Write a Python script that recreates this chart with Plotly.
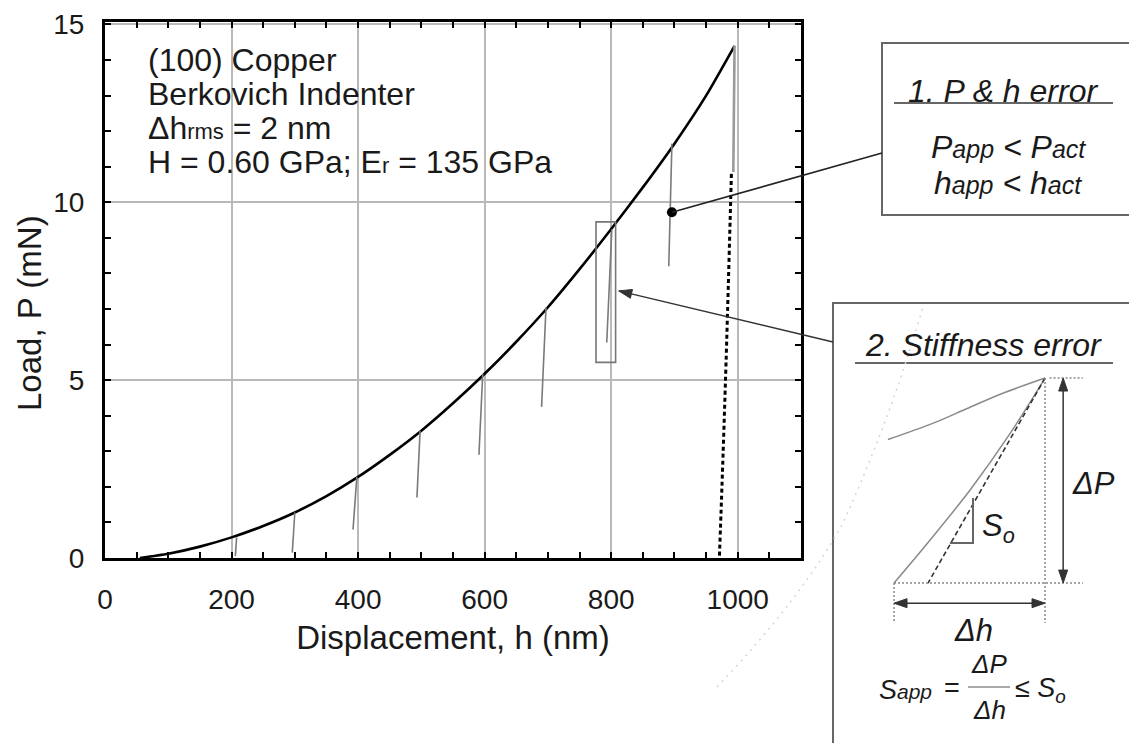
import plotly.graph_objects as go

W, H = 1129, 743

# ---- loading curve of (100) Cu, Berkovich indenter ----
h_load = [55, 100, 150, 200, 250, 300, 350, 400, 450, 500, 550, 600,
          650, 700, 750, 800, 850, 900, 950, 995]
P_load = [0.0, 0.12, 0.32, 0.58, 0.9, 1.28, 1.74, 2.28, 2.9, 3.58, 4.35, 5.18,
          6.08, 7.05, 8.12, 9.25, 10.42, 11.65, 13.0, 14.4]

# ---- partial unloading segments (top point on curve -> bottom point) ----
seg_h_top = [208, 300, 398, 498, 597, 697, 801, 896]
seg_P_top = [0.58, 1.28, 2.28, 3.58, 5.18, 7.05, 9.24, 11.65]
seg_h_bot = [206, 296, 392, 493, 591, 690, 793, 891]
seg_P_bot = [0.05, 0.15, 0.8, 1.7, 2.9, 4.25, 6.06, 8.2]

# ---- final unload from 1000 nm ----
final_h_solid = [995, 994, 993]
final_P_solid = [14.4, 12.4, 10.85]
final_h_dash = [990, 988, 985, 982, 977, 971]
final_P_dash = [10.8, 9.5, 7.6, 5.77, 3.0, 0.0]

# apparent point for the P & h error callout
err_h = [896]
err_P = [9.72]

# window around the 800 nm unload, and where its arrow points
win_h = (776, 807)
win_P = (5.5, 9.45)
win_arrow = (812, 7.51)

# axis ranges
H_RANGE = (0, 1100)
P_RANGE = (0, 15.07)

# ---- stiffness schematic (normalised: unload start (0,0), peak (1,1)) ----
sch_load_x = [-0.04, 0.26, 0.48, 0.70, 1.0]
sch_load_y = [0.70, 0.78, 0.85, 0.92, 1.0]
sch_unload_x = [1.0, 0.76, 0.51, 0.25, 0.0]
sch_unload_y = [1.0, 0.72, 0.46, 0.22, 0.0]
sch_tangent_x = [1.0, 0.225]
sch_tangent_y = [1.0, 0.0]
sch_tri_x = [0.37, 0.523, 0.523]
sch_tri_y = [0.195, 0.195, 0.415]

FONT = "Liberation Sans, Arial, sans-serif"
INK = "#1a1a1a"

# plot-area edges in pixels
PL, PR, PT, PB = 105, 801, 22, 558


def px(x):
    return x / W


def py(y):
    return (H - y) / H


def data_paper(h, p):
    """Main-axes data point -> paper fraction (for callouts leaving the axes)."""
    xp = PL + (h - H_RANGE[0]) / (H_RANGE[1] - H_RANGE[0]) * (PR - PL)
    yp = PB - (p - P_RANGE[0]) / (P_RANGE[1] - P_RANGE[0]) * (PB - PT)
    return px(xp), py(yp)


def head(xref, yref, x, y, angle_path):
    """Filled arrowhead anchored at a point, drawn in pixel offsets."""
    return dict(type="path", xref=xref, yref=yref, xsizemode="pixel",
                ysizemode="pixel", xanchor=x, yanchor=y, path=angle_path,
                fillcolor="#333", line=dict(color="#333", width=1))


fig = go.Figure()

fig.add_trace(go.Scatter(x=h_load, y=P_load, mode="lines",
                         line=dict(color="black", width=2.6, shape="spline",
                                   smoothing=0.6),
                         hoverinfo="skip"))

for ht, pt, hb, pb in zip(seg_h_top, seg_P_top, seg_h_bot, seg_P_bot):
    fig.add_trace(go.Scatter(x=[ht, hb], y=[pt, pb], mode="lines",
                             line=dict(color="#7a7a7a", width=1.6),
                             hoverinfo="skip"))

fig.add_trace(go.Scatter(x=final_h_solid, y=final_P_solid, mode="lines",
                         line=dict(color="#9a9a9a", width=2.6),
                         hoverinfo="skip"))
fig.add_trace(go.Scatter(x=final_h_dash, y=final_P_dash, mode="lines",
                         line=dict(color="black", width=3, dash="4px,3px",
                                   shape="spline"),
                         hoverinfo="skip"))
fig.add_trace(go.Scatter(x=err_h, y=err_P, mode="markers",
                         marker=dict(color="black", size=10),
                         hoverinfo="skip"))

# schematic traces on the inset axes
inset = dict(xaxis="x2", yaxis="y2", hoverinfo="skip", mode="lines")
fig.add_trace(go.Scatter(x=sch_load_x, y=sch_load_y,
                         line=dict(color="#8a8a8a", width=1.5, shape="spline"),
                         **inset))
fig.add_trace(go.Scatter(x=sch_unload_x, y=sch_unload_y,
                         line=dict(color="#8a8a8a", width=1.5, shape="spline"),
                         **inset))
fig.add_trace(go.Scatter(x=sch_tangent_x, y=sch_tangent_y,
                         line=dict(color="#333", width=1.6, dash="5px,3px"),
                         **inset))
fig.add_trace(go.Scatter(x=sch_tri_x, y=sch_tri_y,
                         line=dict(color="#666", width=2), **inset))
dot = dict(color="#888", width=1.5, dash="2px,2px")
fig.add_trace(go.Scatter(x=[0, 0], y=[0, -0.195], line=dot, **inset))
fig.add_trace(go.Scatter(x=[1, 1], y=[1, -0.195], line=dot, **inset))
fig.add_trace(go.Scatter(x=[0, 1.25], y=[0, 0], line=dot, **inset))
fig.add_trace(go.Scatter(x=[1.03, 1.25], y=[1, 1], line=dot, **inset))

err_xp, err_yp = data_paper(err_h[0], err_P[0])
win_xp, win_yp = data_paper(*win_arrow)

arrow_line = dict(color="#333", width=1.5)
shapes = [
    # window around the 800 nm unload
    dict(type="rect", xref="x", yref="y", x0=win_h[0], x1=win_h[1],
         y0=win_P[0], y1=win_P[1], line=dict(color="#777", width=1.6)),
    # callout boxes
    dict(type="rect", xref="paper", yref="paper", x0=px(882), x1=px(1135),
         y0=py(215), y1=py(43), line=dict(color="#666", width=2)),
    dict(type="rect", xref="paper", yref="paper", x0=px(833), x1=px(1135),
         y0=py(750), y1=py(303), line=dict(color="#666", width=2)),
    # title underlines
    dict(type="line", xref="paper", yref="paper", x0=px(894), x1=px(1113),
         y0=py(103), y1=py(103), line=dict(color="#666", width=2)),
    dict(type="line", xref="paper", yref="paper", x0=px(855), x1=px(1113),
         y0=py(363), y1=py(363), line=dict(color="#666", width=2)),
    # fraction bar
    dict(type="line", xref="paper", yref="paper", x0=px(968), x1=px(1010),
         y0=py(687), y1=py(687), line=dict(color="#555", width=1.2)),
    # faint magnification guide
    dict(type="path", xref="paper", yref="paper",
         path=(f"M{px(717)},{py(687)} Q{px(800)},{py(600)} {px(843)},{py(523)}"
               f" Q{px(890)},{py(420)} {px(923)},{py(307)}"),
         line=dict(color="#d6d6d6", width=1.5, dash="2px,5px")),
    # callout from the apparent point to box 1
    dict(type="line", xref="paper", yref="paper", x0=err_xp, y0=err_yp,
         x1=px(882), y1=py(153), line=dict(color="#222", width=1.6)),
    # arrow from box 2 to the window
    dict(type="line", xref="paper", yref="paper", x0=win_xp, y0=win_yp,
         x1=px(833), y1=py(342), line=arrow_line),
    head("paper", "paper", win_xp, win_yp, "M0,0 L13.7,1.4 L11.6,-7.4 Z"),
    # delta-P double arrow
    dict(type="line", xref="x2", yref="y2", x0=1.12, x1=1.12, y0=0.03,
         y1=0.97, line=arrow_line),
    head("x2", "y2", 1.12, 1.0, "M0,0 L-4.5,-13 L4.5,-13 Z"),
    head("x2", "y2", 1.12, 0.0, "M0,0 L-4.5,13 L4.5,13 Z"),
    # delta-h double arrow
    dict(type="line", xref="x2", yref="y2", x0=0.03, x1=0.97, y0=-0.098,
         y1=-0.098, line=arrow_line),
    head("x2", "y2", 1.0, -0.098, "M0,0 L-13,4.5 L-13,-4.5 Z"),
    head("x2", "y2", 0.0, -0.098, "M0,0 L13,4.5 L13,-4.5 Z"),
]


def span(size, t):
    return f"<span style='font-size:{size}px'>{t}</span>"


def txt(text, x, y, size=30, anchor="center", italic=False, color=INK):
    if italic:
        text = f"<i>{text}</i>"
    return dict(text=text, xref="paper", yref="paper", x=px(x), y=py(y),
                xanchor=anchor, yanchor="middle", showarrow=False,
                font=dict(family=FONT, size=size, color=color))


annotations = [
    txt("(100) Copper", 146, 60, size=32, anchor="left"),
    txt("Berkovich Indenter", 146, 94, size=32, anchor="left"),
    txt(f"Δh{span(22, 'rms')} = 2 nm", 146, 128, size=32, anchor="left"),
    txt(f"H = 0.60 GPa; E{span(22, 'r')} = 135 GPa", 146, 162, size=32,
        anchor="left"),
    # box 1
    txt("1. P &amp; h error", 1003, 91, size=32, italic=True),
    txt(f"P{span(25, 'app')} &lt; P{span(25, 'act')}", 1008, 147, size=32,
        italic=True),
    txt(f"h{span(25, 'app')} &lt; h{span(25, 'act')}", 1008, 183, size=32,
        italic=True),
    # box 2
    txt("2. Stiffness error", 984, 345, size=32, italic=True),
    txt("ΔP", 1093, 483, size=31, italic=True),
    txt("Δh", 973, 630, size=31, italic=True),
    txt("S<sub>o</sub>", 998, 528, size=31, italic=True),
    txt(f"S{span(21, 'app')}", 905, 690, size=27, italic=True),
    txt("=", 952, 688, size=27),
    txt("ΔP", 989, 664, size=26, italic=True),
    txt("Δh", 989, 710, size=26, italic=True),
    txt("≤ S<sub>o</sub>", 1040, 690, size=27, italic=True),
    # y-axis title, set slightly below the axis midpoint
    dict(text="Load, P (mN)", xref="paper", yref="paper", x=px(30), y=py(313),
         textangle=-90, showarrow=False, xanchor="center", yanchor="middle",
         font=dict(family=FONT, size=33, color=INK)),
]

axis_common = dict(showline=True, linecolor="black", linewidth=3,
                   mirror="allticks", ticks="inside", ticklen=6, tickwidth=1.5,
                   tickcolor="black", showgrid=True, gridcolor="#b9b9b9",
                   gridwidth=1.5, zeroline=False,
                   tickfont=dict(family=FONT, size=28, color=INK))

fig.update_layout(
    width=W, height=H, showlegend=False,
    margin=dict(l=0, r=0, t=0, b=0, autoexpand=False),
    paper_bgcolor="white", plot_bgcolor="white",
    xaxis=dict(domain=[PL / W, PR / W], range=list(H_RANGE), tick0=0,
               dtick=200, ticklabelstandoff=14,
               title=dict(text="Displacement, h (nm)", standoff=13,
                          font=dict(family=FONT, size=33, color=INK)),
               minor=dict(dtick=50, ticks="inside", ticklen=6, tickwidth=1.5,
                          tickcolor="black", showgrid=False),
               **axis_common),
    yaxis=dict(domain=[(H - PB) / H, (H - PT) / H], range=list(P_RANGE),
               tick0=0, dtick=5, ticklabelstandoff=12,
               minor=dict(dtick=1, ticks="inside", ticklen=6, tickwidth=1.5,
                          tickcolor="black", showgrid=False),
               **axis_common),
    xaxis2=dict(domain=[833 / W, 1.0], range=[-0.404, 1.556], visible=False,
                anchor="y2"),
    yaxis2=dict(domain=[0.0, py(303)], range=[-0.78, 1.366], visible=False,
                anchor="x2"),
    shapes=shapes,
    annotations=annotations,
)

fig.write_html("out.html")
